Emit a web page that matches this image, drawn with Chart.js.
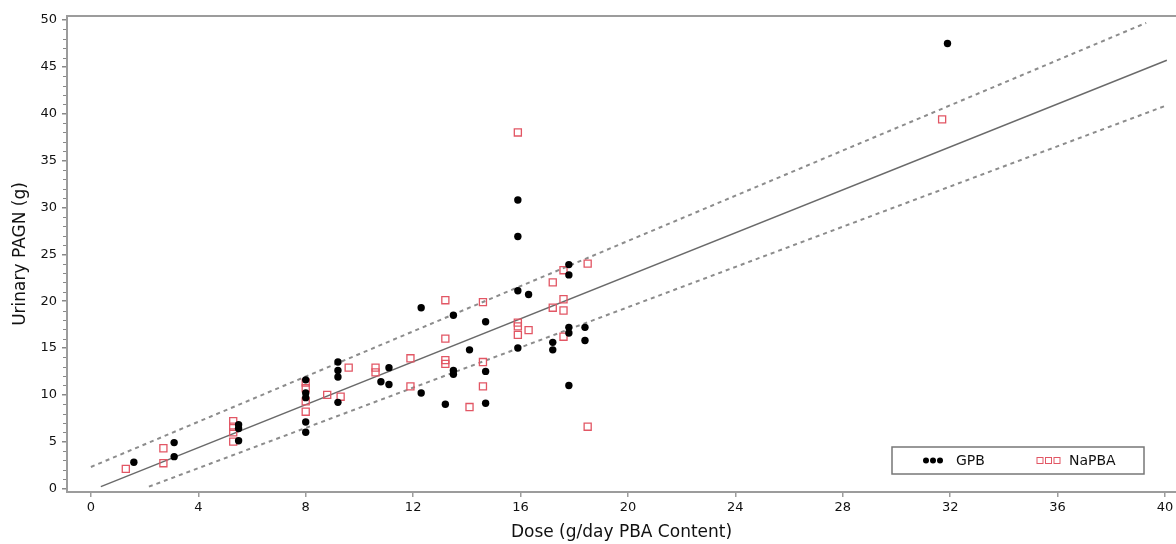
<!DOCTYPE html>
<html><head><meta charset="utf-8">
<script src="https://cdn.jsdelivr.net/npm/chart.js@4"></script>
<style>html,body{margin:0;padding:0;background:#fff}#wrap{width:1176px;height:544px;position:relative}</style>
</head><body><div id="wrap"><canvas id="c" width="1176" height="544"></canvas></div>
<script>
// ---- data ----
const gpbX = [1.6,3.1,3.1,5.5,5.5,5.5,8.0,8.0,8.0,8.0,8.0,9.2,9.2,9.2,9.2,10.8,11.1,11.1,12.3,12.3,13.2,13.5,13.5,13.5,14.1,14.7,14.7,14.7,15.9,15.9,15.9,15.9,16.3,17.2,17.2,17.8,17.8,17.8,17.8,17.8,18.4,18.4,31.9];
const gpbY = [2.8,4.9,3.4,6.8,6.4,5.1,11.6,10.2,9.7,7.1,6.0,13.5,12.6,11.9,9.2,11.4,12.9,11.1,19.3,10.2,9.0,18.5,12.6,12.2,14.8,17.8,12.5,9.1,30.8,26.9,21.1,15.0,20.7,15.6,14.8,23.9,22.8,17.2,16.6,11.0,17.2,15.8,47.5];
const naX = [1.3,2.7,2.7,5.3,5.3,5.3,5.3,8.0,8.0,8.0,8.0,8.8,9.6,9.3,10.6,10.6,11.9,11.9,13.2,13.2,13.2,13.2,14.1,14.6,14.6,14.6,15.9,15.9,15.9,15.9,16.3,17.2,17.2,17.6,17.6,17.6,17.6,18.5,18.5,31.7];
const naY = [2.1,4.3,2.7,7.2,6.6,6.0,5.0,11.3,10.7,9.3,8.2,10.0,12.9,9.8,12.9,12.4,13.9,10.9,20.1,16.0,13.7,13.3,8.7,19.9,13.5,10.9,38.0,17.7,17.3,16.4,16.9,22.0,19.3,23.3,20.2,19.0,16.2,24.0,6.6,39.4];
const fitX = [0.37,40.07], fitY = [0.2,45.7];
const upX = [0,39.3], upY = [2.3,49.7];
const loX = [2.16,40.07], loY = [0.2,40.9];
const xTicks = [0,4,8,12,16,20,24,28,32,36,40];
const yTicks = [0,5,10,15,20,25,30,35,40,45,50];
const seriesNames = ['GPB','NaPBA'];

const pts = (xs, ys) => xs.map((x, i) => ({x: x, y: ys[i]}));
const FONT = 'DejaVu Sans, Liberation Sans, sans-serif';
const RED = 'rgb(226,86,100)';
const AXIS = '#9c9c9c';

const framePlugin = {
  id: 'frame',
  beforeDatasetsDraw(chart) {
    const {ctx, chartArea} = chart;
    ctx.save();
    ctx.strokeStyle = AXIS; ctx.lineWidth = 2;
    ctx.beginPath(); ctx.moveTo(chartArea.left, chartArea.top); ctx.lineTo(chart.width, chartArea.top); ctx.stroke();
    const ys = chart.scales.y;
    ctx.lineWidth = 1; ctx.strokeStyle = '#888';
    for (let v = 0; v <= 50; v++) {
      if (v % 5 === 0) continue;
      const p = Math.round(ys.getPixelForValue(v)) + 0.5;
      ctx.beginPath(); ctx.moveTo(chartArea.left - 4, p); ctx.lineTo(chartArea.left - 1, p); ctx.stroke();
    }
    ctx.restore();
  },
  afterDraw(chart) {
    const {ctx} = chart;
    ctx.save();
    const bx = 892, by = 447, bw = 252, bh = 27;
    ctx.fillStyle = '#fff'; ctx.fillRect(bx, by, bw, bh);
    ctx.strokeStyle = '#777'; ctx.lineWidth = 1.5; ctx.strokeRect(bx, by, bw, bh);
    const cy = by + bh / 2;
    ctx.fillStyle = '#000';
    [926, 933, 940].forEach(x => { ctx.beginPath(); ctx.arc(x, cy, 3, 0, Math.PI * 2); ctx.fill(); });
    ctx.strokeStyle = RED; ctx.lineWidth = 1;
    [1040, 1048.5, 1057].forEach(x => { ctx.strokeRect(x - 3, cy - 3, 6, 6); });
    ctx.fillStyle = '#111'; ctx.font = '14px ' + FONT; ctx.textBaseline = 'middle'; ctx.textAlign = 'left';
    ctx.fillText(seriesNames[0], 956, cy + 1);
    ctx.fillText(seriesNames[1], 1069, cy + 1);
    ctx.restore();
  }
};

new Chart(document.getElementById('c'), {
  type: 'scatter',
  data: {
    datasets: [
      {label: 'fit', type: 'line', data: pts(fitX, fitY), borderColor: '#6a6a6a', borderWidth: 1.5, pointRadius: 0, fill: false, order: 5},
      {label: 'upper', type: 'line', data: pts(upX, upY), borderColor: '#8c8c8c', borderWidth: 2, borderDash: [4, 4], pointRadius: 0, fill: false, order: 5},
      {label: 'lower', type: 'line', data: pts(loX, loY), borderColor: '#8c8c8c', borderWidth: 2, borderDash: [4, 4], pointRadius: 0, fill: false, order: 5},
      {label: seriesNames[1], data: pts(naX, naY), pointStyle: 'rect', pointRadius: 5, pointBackgroundColor: 'rgba(255,255,255,0)', pointBorderColor: RED, pointBorderWidth: 1.3, order: 2},
      {label: seriesNames[0], data: pts(gpbX, gpbY), pointStyle: 'circle', pointRadius: 3.7, pointBackgroundColor: '#000', pointBorderColor: '#000', pointBorderWidth: 0, order: 1}
    ]
  },
  options: {
    responsive: false, animation: false, devicePixelRatio: 1,
    layout: {autoPadding: false, padding: {top: 16, left: 0, right: 0, bottom: 0}},
    plugins: {legend: {display: false}, tooltip: {enabled: false}},
    scales: {
      x: {
        type: 'linear', min: -0.89, max: 40.41,
        afterBuildTicks: s => { s.ticks = xTicks.map(v => ({value: v})); },
        afterFit: s => { s.height = 52; s.paddingLeft = 0; s.paddingRight = 0; },
        grid: {drawOnChartArea: false, drawTicks: true, tickLength: 5, tickColor: AXIS, lineWidth: 1.5},
        border: {color: AXIS, width: 2},
        ticks: {color: '#111', font: {family: FONT, size: 13}, padding: 3, maxRotation: 0, autoSkip: false},
        title: {display: true, text: 'Dose (g/day PBA Content)', color: '#111', font: {family: FONT, size: 17}, padding: {top: 0, bottom: 1}}
      },
      y: {
        type: 'linear', min: -0.37, max: 50.43,
        afterBuildTicks: s => { s.ticks = yTicks.map(v => ({value: v})); },
        afterFit: s => { s.width = 67; s.paddingTop = 0; s.paddingBottom = 0; },
        grid: {drawOnChartArea: false, drawTicks: true, tickLength: 5, tickColor: '#888', lineWidth: 1.5},
        border: {color: AXIS, width: 2},
        ticks: {color: '#111', font: {family: FONT, size: 13}, padding: 5, autoSkip: false},
        title: {display: true, text: 'Urinary PAGN (g)', color: '#111', font: {family: FONT, size: 17}, padding: {top: 10, bottom: 0}}
      }
    }
  },
  plugins: [framePlugin]
});
</script>
</body></html>
